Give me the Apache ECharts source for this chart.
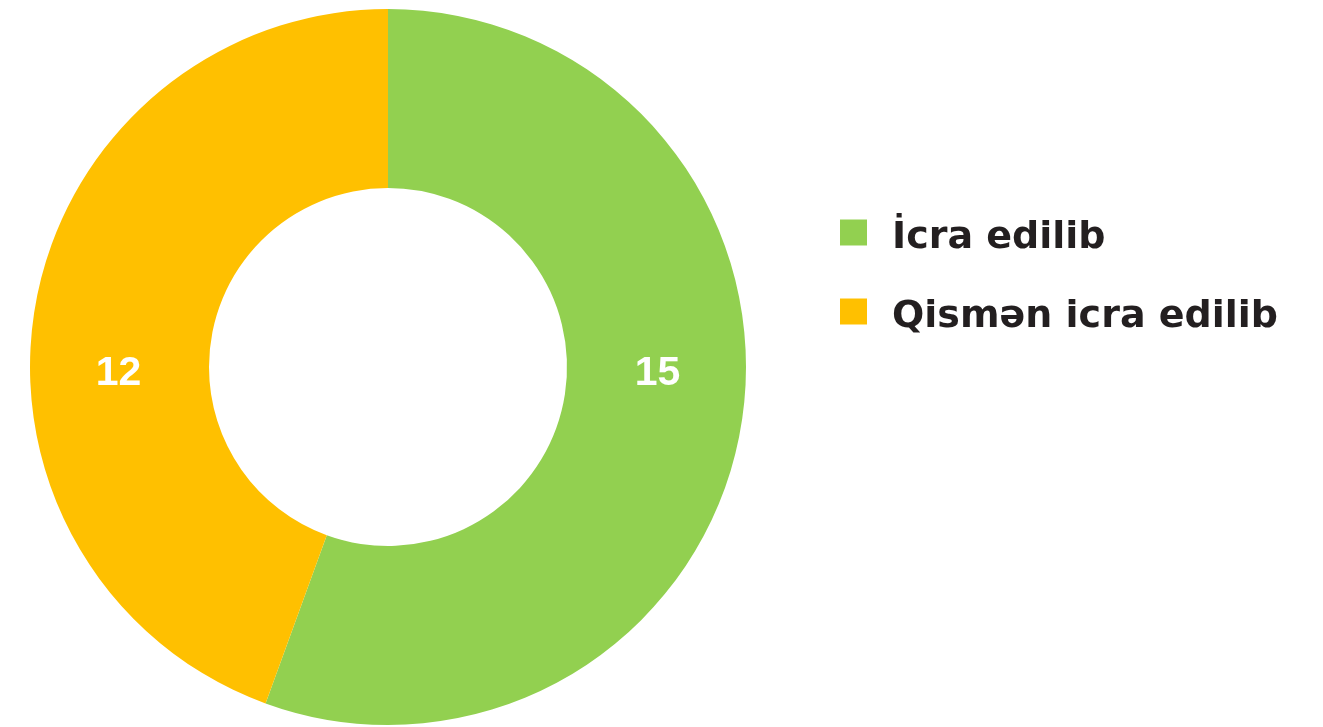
<!DOCTYPE html>
<html>
<head>
<meta charset="utf-8">
<script src="https://cdn.jsdelivr.net/npm/echarts@6/dist/echarts.min.js"></script>
<style>
html,body{margin:0;padding:0;background:#fff;}
#chart{width:1323px;height:727px;}
</style>
</head>
<body>
<div id="chart"></div>
<script>
var categories = ['İcra edilib', 'Qismən icra edilib'];
var values = [15, 12];
var colors = ['#92D050', '#FFC000'];

var cx = 388, cy = 367, rIn = 179, rOut = 358;
var rMid = (rIn + rOut) / 2;

var chart = echarts.init(document.getElementById('chart'));
chart.setOption({
  backgroundColor: '#ffffff',
  animation: false,
  color: colors,
  legend: {
    orient: 'vertical',
    left: 840,
    top: 219,
    padding: 0,
    itemWidth: 27,
    itemHeight: 26,
    itemGap: 41,
    icon: 'rect',
    data: categories,
    formatter: '{t|{name}}',
    textStyle: {
      padding: [0, 0, 0, 20],
      rich: {
        t: {
          fontFamily: 'DejaVu Sans',
          fontWeight: 'bold',
          fontSize: 38,
          lineHeight: 49,
          verticalAlign: 'bottom',
          color: '#231F20'
        }
      }
    }
  },
  series: [{
    type: 'pie',
    center: [cx, cy],
    radius: [rIn, rOut],
    startAngle: 90,
    clockwise: true,
    avoidLabelOverlap: false,
    itemStyle: { borderWidth: 0 },
    label: {
      show: true,
      position: 'inside',
      formatter: '{c}',
      color: '#ffffff',
      fontFamily: 'Liberation Sans',
      fontWeight: 'bold',
      fontSize: 41
    },
    labelLine: { show: false },
    labelLayout: function (p) {
      var lx = p.labelRect.x + p.labelRect.width / 2;
      var sign = lx >= cx ? 1 : -1;
      return { x: cx + sign * (rMid + 1), y: cy + 7, align: 'center', verticalAlign: 'middle' };
    },
    emphasis: { disabled: true },
    data: categories.map(function (c, i) { return { name: c, value: values[i] }; })
  }]
});
</script>
</body>
</html>
